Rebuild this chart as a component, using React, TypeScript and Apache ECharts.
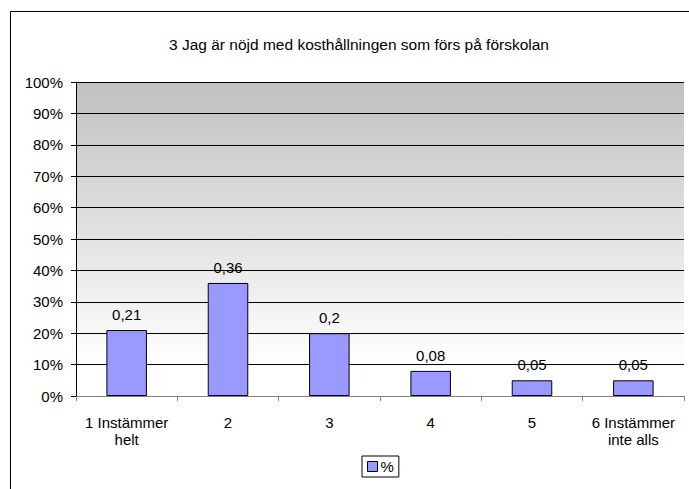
import React, { useEffect, useRef } from "react";
import * as echarts from "echarts";

const titleText = "3 Jag är nöjd med kosthållningen som förs på förskolan";
const categories = ["1 Instämmer\nhelt", "2", "3", "4", "5", "6 Instämmer\ninte alls"];
const seriesName = "%";
const values = [0.21, 0.36, 0.2, 0.08, 0.05, 0.05];

const FONT = "'Liberation Sans', Arial, sans-serif";

export default function App() {
  const ref = useRef<HTMLDivElement>(null);
  useEffect(() => {
    if (!ref.current) return;
    const chart = echarts.init(ref.current, undefined, { renderer: "svg" });
    chart.setOption({
      animation: false,
      backgroundColor: "#ffffff",
      textStyle: { fontFamily: FONT },
      title: {
        text: titleText,
        left: 354,
        top: 31,
        textAlign: "center",
        textStyle: { fontFamily: FONT, fontSize: 15.5, fontWeight: "normal", color: "#000" },
      },
      graphic: [
        {
          type: "rect",
          shape: { x: 10.5, y: 11.5, width: 800, height: 600 },
          style: { fill: "none", stroke: "#000", lineWidth: 1 },
          silent: true,
          z: -10,
        },
      ],
      legend: {
        data: [seriesName],
        left: 362,
        top: 456,
        icon: "rect",
        itemWidth: 10,
        itemHeight: 10,
        itemGap: 4,
        padding: [3, 5, 3, 5],
        borderColor: "#000",
        borderWidth: 1,
        textStyle: { fontFamily: FONT, fontSize: 15, color: "#000", padding: [0, 0, 0, -2] },
        itemStyle: { borderColor: "#000", borderWidth: 1 },
      },
      grid: {
        left: 76,
        right: 5,
        top: 82,
        bottom: 93,
        show: true,
        borderWidth: 0,
        backgroundColor: new echarts.graphic.LinearGradient(0, 0, 0, 1, [
          { offset: 0, color: "#c0c0c0" },
          { offset: 0.9, color: "#ffffff" },
          { offset: 1, color: "#ffffff" },
        ]),
      },
      xAxis: {
        type: "category",
        data: categories,
        axisLine: { show: true, lineStyle: { color: "#808080", width: 1 } },
        axisTick: { show: true, length: 5, lineStyle: { color: "#808080" } },
        axisLabel: {
          interval: 0,
          margin: 18,
          fontFamily: FONT,
          fontSize: 15,
          color: "#000",
          lineHeight: 17,
        },
        splitLine: { show: false },
      },
      yAxis: {
        type: "value",
        min: 0,
        max: 1,
        interval: 0.1,
        axisLine: { show: true, lineStyle: { color: "#000", width: 1 } },
        axisTick: { show: true, length: 5, lineStyle: { color: "#000" } },
        axisLabel: {
          margin: 13,
          fontFamily: FONT,
          fontSize: 15,
          color: "#000",
          formatter: (v: number) => Math.round(v * 100) + "%",
        },
        splitLine: { show: true, lineStyle: { color: "#000", width: 1 } },
      },
      series: [
        {
          name: seriesName,
          type: "bar",
          data: values,
          barWidth: "40%",
          itemStyle: { color: "#9999ff", borderColor: "#000", borderWidth: 1 },
          label: {
            show: true,
            position: "top",
            distance: 8,
            fontFamily: FONT,
            fontSize: 15,
            color: "#000",
            formatter: (p: any) => String(p.value).replace(".", ","),
          },
        },
      ],
    });
    return () => chart.dispose();
  }, []);
  return <div ref={ref} style={{ width: 689, height: 489, position: "absolute", left: 0, top: 0 }} />;
}
